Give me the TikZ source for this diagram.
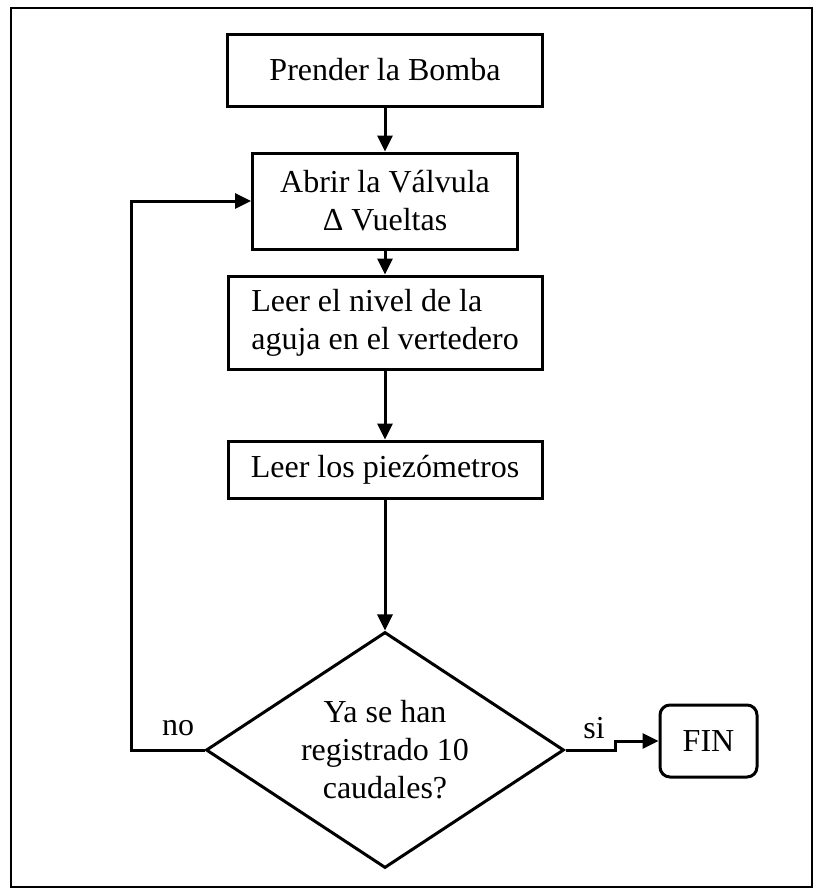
\documentclass[tikz,border=0pt]{standalone}
\usepackage{fontspec}
\setmainfont{Liberation Serif}
\usetikzlibrary{shapes.geometric, arrows.meta, positioning}
\tikzset{
        >={Triangle[length=16pt,width=15pt]}, % filled arrow heads
        every node/.style={font=\fontsize{32}{38}\selectfont},
        paso/.style={draw, rectangle, inner sep=0pt},
        decision/.style={draw, diamond, aspect=1.517, inner sep=0pt, align=center,
                         minimum width=358pt, minimum height=236pt},
        fin/.style={draw, rectangle, rounded corners=10pt, minimum width=97pt, minimum height=72pt}
        }
\begin{document}
\begin{tikzpicture}[x=1pt, y=-1pt, line width=3pt]
        \useasboundingbox (0,0) rectangle (819,894);
        \draw[line width=1.5pt] (11,8) rectangle (812,887);
        \node[paso, minimum width=315pt, minimum height=72pt](bomba) at (385,70){Prender la Bomba};
        \node[paso, minimum width=265pt, minimum height=96pt, align=center](valvula) at (385,201){Abrir la Válvula\\Δ Vueltas};
        \node[paso, minimum width=314pt, minimum height=93pt, align=left](nivel) at (385,322.5){Leer el nivel de la\\aguja en el vertedero};
        \node[paso, minimum width=314pt, minimum height=57pt](piezo) at (385,469.5){Leer los piezómetros};
        \node[decision](pregunta) at (385,750){Ya se han\\registrado 10\\caudales?};
        \node[fin](fin) at (708.5,741){FIN};
        \node(no) at (178,728){no};
        \node(si) at (594,728){si};
        \coordinate (vuelta) at (131,750);
        \draw[->] (bomba) -- (valvula);
        \draw[->] (valvula) -- (nivel);
        \draw[->] (nivel) -- (piezo);
        \draw[->] (piezo) -- (pregunta);
        \draw[->] (pregunta.west) -- (vuelta) |- (valvula.west);
        \draw[->] (pregunta.east) -- ++(50,0) |- (fin.west);
\end{tikzpicture}
\end{document}
